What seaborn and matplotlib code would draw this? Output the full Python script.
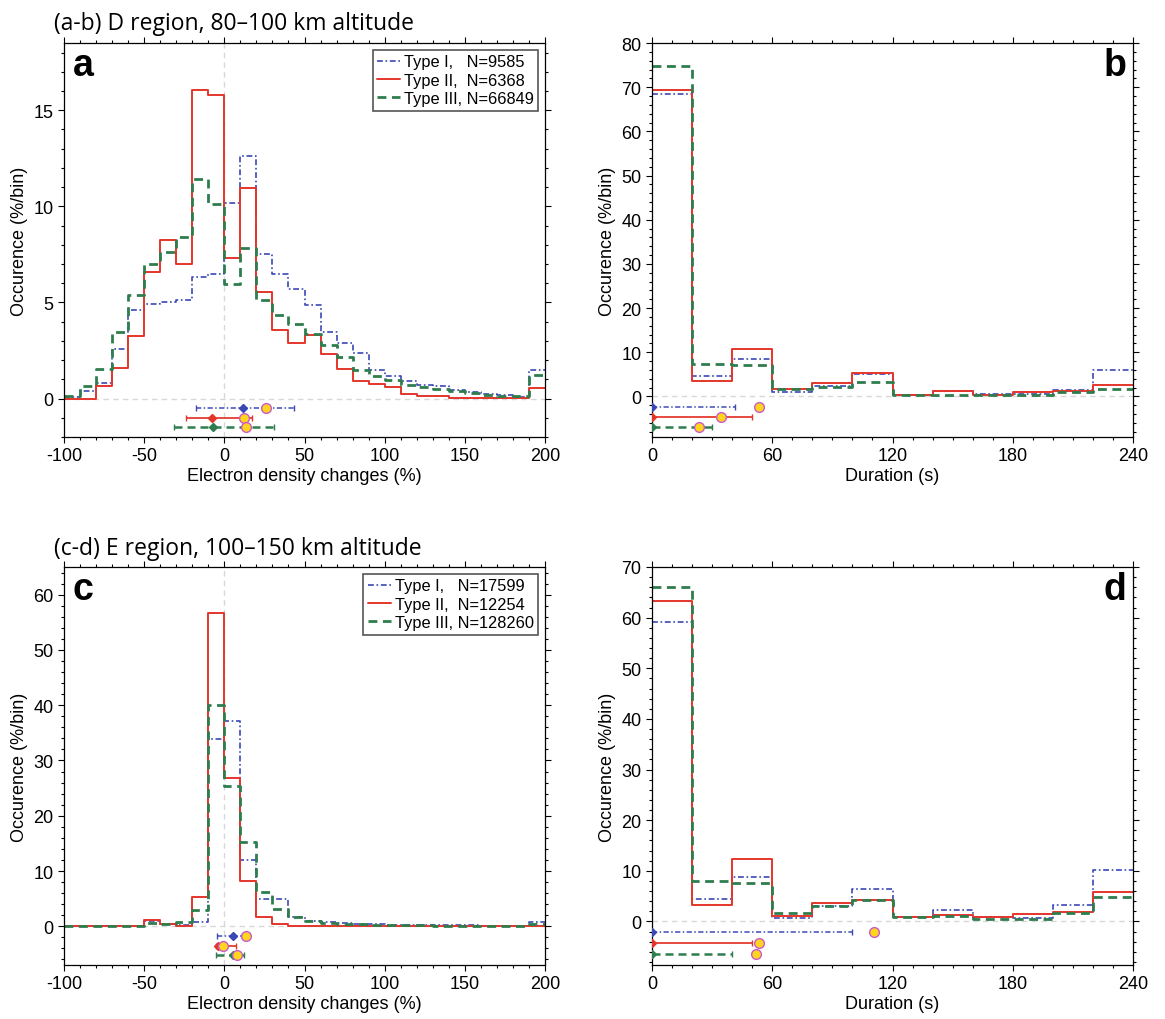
import matplotlib
matplotlib.use("Agg")
import matplotlib.pyplot as plt
import numpy as np
import seaborn as sns
from matplotlib.lines import Line2D
from matplotlib.ticker import MultipleLocator

# ---------------------------------------------------------------------------
# Data (percent of events per bin)
# ---------------------------------------------------------------------------
DENS_EDGES = np.arange(-100, 201, 10)   # electron density change bins (%)
DUR_EDGES = np.arange(0, 241, 20)       # duration bins (s)

TYPES = ["Type I", "Type II", "Type III"]
D_COUNTS = [9585, 6368, 66849]
E_COUNTS = [17599, 12254, 128260]

# (a) D region, density change
D_DENS_I = [0.08, 0.38, 0.81, 2.60, 4.59, 4.94, 5.03, 5.11, 6.33, 6.50,
            10.19, 12.60, 7.54, 6.50, 5.72, 4.85, 3.47, 2.91, 2.39, 1.51,
            1.16, 0.90, 0.69, 0.64, 0.47, 0.35, 0.24, 0.21, 0.09, 1.51]
D_DENS_II = [0.00, 0.00, 0.64, 1.61, 3.24, 6.59, 8.25, 7.02, 16.08, 15.77,
             7.33, 10.97, 5.55, 3.55, 2.91, 3.29, 2.34, 1.53, 0.90, 0.78,
             0.61, 0.26, 0.12, 0.12, 0.05, 0.03, 0.02, 0.02, 0.02, 0.55]
D_DENS_III = [0.14, 0.66, 1.56, 3.47, 5.37, 6.98, 7.63, 8.41, 11.40, 10.12,
              5.98, 7.85, 5.11, 4.37, 3.90, 3.38, 2.81, 2.17, 1.51, 1.16,
              0.99, 0.73, 0.61, 0.52, 0.38, 0.28, 0.17, 0.12, 0.12, 1.21]

# (b) D region, duration
D_DUR_I = [68.4, 4.5, 8.4, 1.0, 2.35, 5.0, 0.4, 1.2, 0.5, 0.6, 1.45, 5.9]
D_DUR_II = [69.3, 3.5, 10.7, 1.6, 3.0, 5.2, 0.4, 1.2, 0.3, 1.0, 1.2, 2.6]
D_DUR_III = [74.9, 7.4, 7.1, 1.6, 2.2, 3.3, 0.3, 0.4, 0.2, 0.3, 1.0, 1.6]

# (c) E region, density change
E_DENS_I = [0.05, 0.05, 0.05, 0.05, 0.05, 0.9, 0.45, 0.3, 0.7, 33.8,
            37.1, 12.0, 4.9, 4.9, 1.7, 1.0, 0.8, 0.6, 0.5, 0.4,
            0.3, 0.25, 0.2, 0.2, 0.15, 0.15, 0.1, 0.1, 0.1, 0.8]
E_DENS_II = [0.0, 0.0, 0.0, 0.0, 0.0, 1.1, 0.4, 0.05, 5.3, 56.7,
             26.85, 8.2, 1.65, 0.45, 0.05, 0.05, 0.05, 0.05, 0.03, 0.03,
             0.02, 0.02, 0.02, 0.02, 0.02, 0.02, 0.02, 0.02, 0.02, 0.1]
E_DENS_III = [0.1, 0.1, 0.1, 0.1, 0.1, 0.6, 0.4, 0.7, 2.9, 40.1,
              25.4, 15.2, 6.2, 3.1, 1.7, 0.9, 0.6, 0.5, 0.4, 0.25,
              0.2, 0.15, 0.15, 0.12, 0.1, 0.1, 0.1, 0.1, 0.1, 0.4]

# (d) E region, duration
E_DUR_I = [59.1, 4.4, 8.7, 0.73, 3.05, 6.4, 0.8, 2.26, 0.86, 0.6, 3.2, 10.2]
E_DUR_II = [63.2, 3.2, 12.3, 1.06, 3.6, 4.2, 0.93, 1.26, 0.93, 1.46, 1.86, 5.84]
E_DUR_III = [66.1, 8.0, 7.5, 1.6, 3.0, 4.3, 0.86, 1.06, 0.53, 0.46, 1.6, 4.9]

# summary statistics per type: lower quartile, median, upper quartile, mean
D_DENS_LO = [-17.7, -23.9, -31.2]
D_DENS_MED = [11.9, -7.5, -6.9]
D_DENS_HI = [43.4, 17.0, 31.0]
D_DENS_MEAN = [25.8, 12.1, 13.7]

D_DUR_LO = [0, 0, 0]
D_DUR_MED = [0, 0, 0]
D_DUR_HI = [41.3, 49.9, 30.0]
D_DUR_MEAN = [53.6, 34.6, 23.6]

E_DENS_LO = [-4.8, -5.2, -5.2]
E_DENS_MED = [5.6, -3.7, 5.2]
E_DENS_HI = [10.8, 7.1, 12.3]
E_DENS_MEAN = [13.3, -0.8, 7.7]

E_DUR_LO = [0, 0, 0]
E_DUR_MED = [0, 0, 0]
E_DUR_HI = [100.0, 50.0, 40.0]
E_DUR_MEAN = [111.0, 53.6, 51.8]

# ---------------------------------------------------------------------------
# Style
# ---------------------------------------------------------------------------
STYLES = [
    dict(color="#3A48B6", linewidth=1.2, linestyle=(0, (3.5, 1.6, 1.0, 1.6))),
    dict(color="#E4352B", linewidth=1.4, linestyle="-"),
    dict(color="#2E7D4F", linewidth=2.0, linestyle=(0, (3.2, 2.0))),
]
ZERO_LINE = dict(color="#D8D8D8", linewidth=1.0, linestyle=(0, (4, 3)), zorder=0.5)

sns.set_theme(style="ticks")
plt.rcParams["font.family"] = ["Liberation Sans", "DejaVu Sans"]
plt.rcParams["axes.unicode_minus"] = False
plt.rcParams["axes.linewidth"] = 0.9
plt.rcParams["axes.edgecolor"] = "black"
plt.rcParams["xtick.color"] = "black"
plt.rcParams["ytick.color"] = "black"
plt.rcParams["axes.labelcolor"] = "black"
plt.rcParams["text.color"] = "black"


def style_axes(ax, xlim, ylim, xmaj, xmin, ymaj, ymin, xlabel):
    ax.set_xlim(*xlim)
    ax.set_ylim(*ylim)
    ax.xaxis.set_major_locator(MultipleLocator(xmaj))
    ax.xaxis.set_minor_locator(MultipleLocator(xmin))
    ax.yaxis.set_major_locator(MultipleLocator(ymaj))
    ax.yaxis.set_minor_locator(MultipleLocator(ymin))
    ax.tick_params(which="both", direction="out", top=True, right=True,
                   labelsize=13, width=0.8, pad=3)
    ax.tick_params(which="major", length=4.5)
    ax.tick_params(which="minor", length=2.5)
    ax.set_xlabel(xlabel, fontsize=13, labelpad=2)
    ax.set_ylabel("Occurence (%/bin)", fontsize=13, labelpad=4)
    for s in ax.spines.values():
        s.set_visible(True)


def draw_panel(ax, edges, series, lo, med, hi, mean, ylim):
    width = float(edges[1] - edges[0])
    centers = (edges[:-1] + edges[1:]) / 2
    ax.axhline(0, **ZERO_LINE)
    for vals, st in zip(series, STYLES):
        sns.histplot(x=centers, weights=vals, binwidth=width,
                     binrange=(float(edges[0]), float(edges[-1])),
                     element="step", fill=False, ax=ax, **st)
    rows = ylim[0] * np.array([0.25, 0.5, 0.75])
    for i, st in enumerate(STYLES):
        eb = ax.errorbar(med[i], rows[i],
                         xerr=[[med[i] - lo[i]], [hi[i] - med[i]]],
                         fmt="D", ms=4.5, color=st["color"], ecolor=st["color"],
                         elinewidth=st["linewidth"] * 0.9, capsize=2.5,
                         capthick=1.0, zorder=4)
        eb.lines[2][0].set_linestyle(st["linestyle"])
        ax.plot(mean[i], rows[i], "o", ms=7, mfc="#FFD51E", mec="#C95ACB",
                mew=1.0, zorder=5)


fig = plt.figure(figsize=(11.65, 10.2), dpi=100)
W = 481 / 1165
ax_a = fig.add_axes([64 / 1165, 1 - 438 / 1020, W, 394 / 1020])
ax_b = fig.add_axes([652 / 1165, 1 - 438 / 1020, W, 394 / 1020])
ax_c = fig.add_axes([64 / 1165, 1 - 966 / 1020, W, 398 / 1020])
ax_d = fig.add_axes([652 / 1165, 1 - 966 / 1020, W, 398 / 1020])

panels = [
    (ax_a, DENS_EDGES, [D_DENS_I, D_DENS_II, D_DENS_III],
     D_DENS_LO, D_DENS_MED, D_DENS_HI, D_DENS_MEAN, (-2, 18.5), "a", D_COUNTS),
    (ax_b, DUR_EDGES, [D_DUR_I, D_DUR_II, D_DUR_III],
     D_DUR_LO, D_DUR_MED, D_DUR_HI, D_DUR_MEAN, (-9.2, 80), "b", None),
    (ax_c, DENS_EDGES, [E_DENS_I, E_DENS_II, E_DENS_III],
     E_DENS_LO, E_DENS_MED, E_DENS_HI, E_DENS_MEAN, (-7, 65), "c", E_COUNTS),
    (ax_d, DUR_EDGES, [E_DUR_I, E_DUR_II, E_DUR_III],
     E_DUR_LO, E_DUR_MED, E_DUR_HI, E_DUR_MEAN, (-8.6, 70), "d", None),
]

for ax, edges, series, lo, med, hi, mean, ylim, letter, counts in panels:
    draw_panel(ax, edges, series, lo, med, hi, mean, ylim)
    if counts is not None:
        ax.axvline(0, **ZERO_LINE)
        style_axes(ax, (-100, 200), ylim, 50, 10,
                   5 if ylim[1] < 30 else 10, 1 if ylim[1] < 30 else 2,
                   "Electron density changes (%)")
        ax.text(0.018, 0.99, letter, transform=ax.transAxes, ha="left",
                va="top", fontsize=27, fontweight="bold")
        pads = ["   ", "  ", " "]
        labels = [f"{t},{p}N={n}" for t, p, n in zip(TYPES, pads, counts)]
        handles = [Line2D([], [], **st) for st in STYLES]
        leg = ax.legend(handles, labels, loc="upper right", fontsize=11.8,
                        handlelength=1.4, handletextpad=0.2, labelspacing=0.2,
                        borderpad=0.3, borderaxespad=0.4, fancybox=False,
                        framealpha=1)
        leg.get_frame().set_edgecolor("#555555")
        leg.get_frame().set_linewidth(1.2)
    else:
        style_axes(ax, (0, 240), ylim, 60, 10, 10, 2, "Duration (s)")
        ax.text(0.986, 0.99, letter, transform=ax.transAxes, ha="right",
                va="top", fontsize=27, fontweight="bold")

fig.text(54 / 1165, 0.988, "(a-b) D region, 80\u2013100 km altitude",
         fontsize=16.5, family=["Open Sans", "DejaVu Sans"], va="top")
fig.text(54 / 1165, 0.474, "(c-d) E region, 100\u2013150 km altitude",
         fontsize=16.5, family=["Open Sans", "DejaVu Sans"], va="top")

fig.savefig("out.png", dpi=100)
